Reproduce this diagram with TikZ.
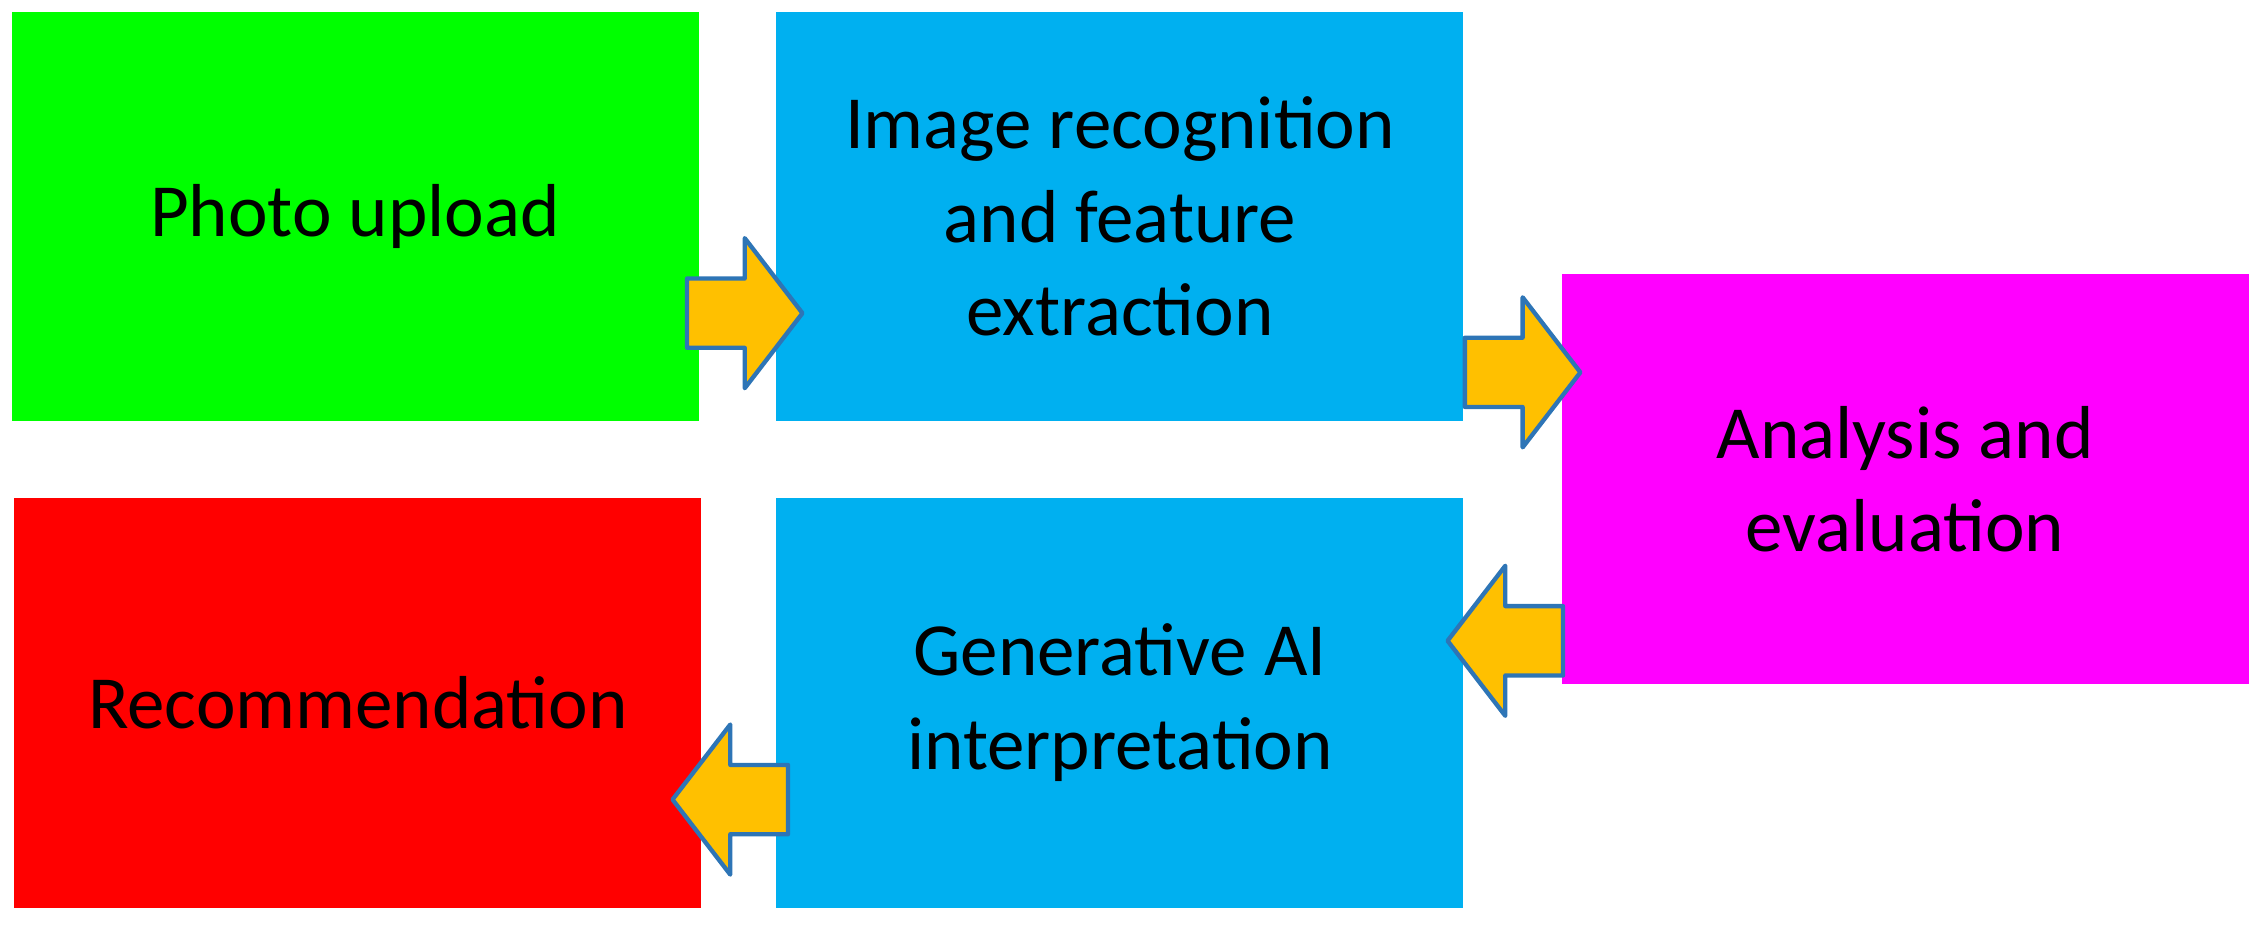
\documentclass[tikz,border=0pt]{standalone}
\usepackage{fontspec}
\setmainfont{Carlito}
\definecolor{cgreen}{HTML}{00FF00}
\definecolor{cblue}{HTML}{00B0F0}
\definecolor{cmag}{HTML}{FF00FF}
\definecolor{cred}{HTML}{FF0000}
\definecolor{corange}{HTML}{FFC000}
\definecolor{cedge}{HTML}{2E75B6}
\begin{document}
\begin{tikzpicture}[x=0.5pt,y=-0.5pt,
  box/.style={draw=none,inner sep=0pt,minimum width=238pt,minimum height=142pt,align=center,font=\fontsize{26}{32.5}\selectfont},
  arrowstyle/.style={fill=corange,draw=cedge,line width=1.5pt,line join=round},
  blockarrow/.pic={\draw[arrowstyle] (-40,-24) -- (0,-24) -- (0,-52) -- (40,0) -- (0,52) -- (0,24) -- (-40,24) -- cycle;}]
\useasboundingbox (0,0) rectangle (1568,646);
\node[box,fill=cgreen] (photo) at (246,150) {Photo upload};
\node[box,fill=cblue] (img) at (776,150) {Image recognition\\and feature\\extraction};
\node[box,fill=cmag] (ana) at (1320,332) {Analysis and\\evaluation};
\node[box,fill=cblue] (gen) at (776,487) {Generative AI\\interpretation};
\node[box,fill=cred] (rec) at (248,487) {Recommendation};
\pic at (516,217) {blockarrow};
\pic at (1055,258) {blockarrow};
\pic[xscale=-1] at (1043,444) {blockarrow};
\pic[xscale=-1] at (506,554) {blockarrow};
\end{tikzpicture}
\end{document}
